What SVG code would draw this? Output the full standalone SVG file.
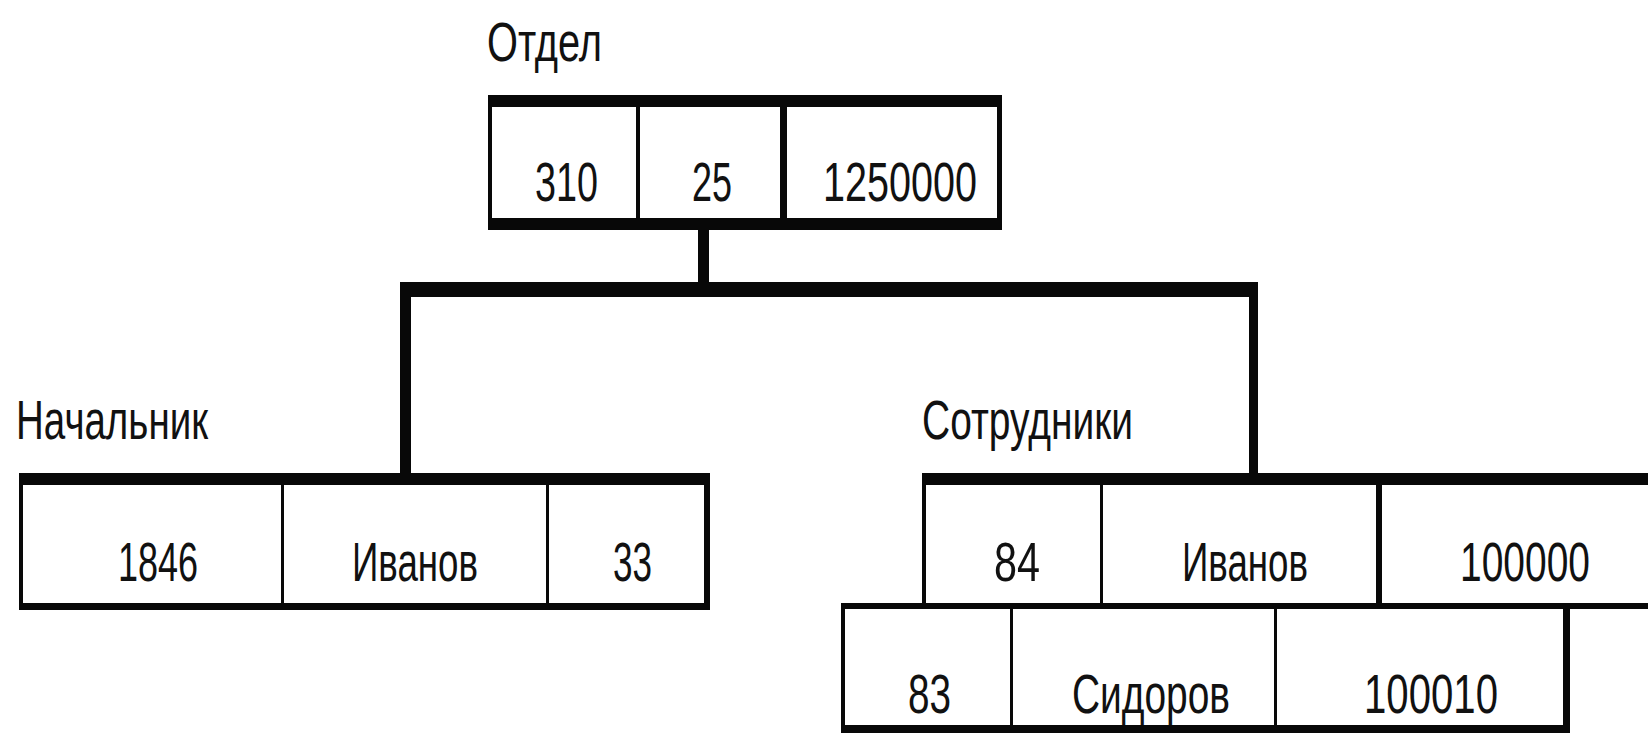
<svg xmlns="http://www.w3.org/2000/svg" width="1648" height="736" viewBox="0 0 1648 736">
<style>
.ln{fill:#080808}
.t{font-family:"Liberation Sans",Arial,sans-serif;font-size:56px;fill:#111}
</style>
<rect width="1648" height="736" fill="#fff"/>
<g id="otdel">
<text class="t" x="487" y="61" textLength="115" lengthAdjust="spacingAndGlyphs">Отдел</text>
<rect class="ln" x="488" y="95" width="514" height="12"/>
<rect class="ln" x="488" y="218" width="514" height="12"/>
<rect class="ln" x="488" y="95" width="4" height="135"/>
<rect class="ln" x="997" y="95" width="5" height="135"/>
<rect class="ln" x="636" y="95" width="4" height="135"/>
<rect class="ln" x="780" y="95" width="7" height="135"/>
<text class="t" x="535" y="201" textLength="63" lengthAdjust="spacingAndGlyphs">310</text>
<text class="t" x="692" y="201" textLength="40" lengthAdjust="spacingAndGlyphs">25</text>
<text class="t" x="823" y="201" textLength="154" lengthAdjust="spacingAndGlyphs">1250000</text>
</g>
<g id="connectors">
<rect class="ln" x="698" y="228" width="11" height="62"/>
<rect class="ln" x="400" y="282" width="858" height="15"/>
<rect class="ln" x="400" y="282" width="11" height="195"/>
<rect class="ln" x="1249" y="282" width="9" height="195"/>
</g>
<g id="nachalnik">
<text class="t" x="16" y="439" textLength="192" lengthAdjust="spacingAndGlyphs">Начальник</text>
<rect class="ln" x="19" y="473" width="691" height="12"/>
<rect class="ln" x="19" y="603" width="691" height="7"/>
<rect class="ln" x="19" y="473" width="4" height="137"/>
<rect class="ln" x="704" y="473" width="6" height="137"/>
<rect class="ln" x="281" y="473" width="3" height="137"/>
<rect class="ln" x="546" y="473" width="3" height="137"/>
<text class="t" x="118" y="581" textLength="80" lengthAdjust="spacingAndGlyphs">1846</text>
<text class="t" x="352" y="581" textLength="126" lengthAdjust="spacingAndGlyphs">Иванов</text>
<text class="t" x="613" y="581" textLength="39" lengthAdjust="spacingAndGlyphs">33</text>
</g>
<g id="sotrudniki">
<text class="t" x="922" y="439" textLength="211" lengthAdjust="spacingAndGlyphs">Сотрудники</text>
<rect class="ln" x="922" y="473" width="726" height="12"/>
<rect class="ln" x="922" y="473" width="4" height="135"/>
<rect class="ln" x="1100" y="473" width="3" height="135"/>
<rect class="ln" x="1376" y="473" width="6" height="135"/>
<text class="t" x="994" y="581" textLength="46" lengthAdjust="spacingAndGlyphs">84</text>
<text class="t" x="1182" y="581" textLength="126" lengthAdjust="spacingAndGlyphs">Иванов</text>
<text class="t" x="1460" y="581" textLength="130" lengthAdjust="spacingAndGlyphs">100000</text>
<rect class="ln" x="841" y="603" width="807" height="6"/>
<rect class="ln" x="841" y="725" width="729" height="8"/>
<rect class="ln" x="841" y="603" width="4" height="130"/>
<rect class="ln" x="1010" y="603" width="3" height="130"/>
<rect class="ln" x="1274" y="603" width="3" height="130"/>
<rect class="ln" x="1563" y="603" width="7" height="130"/>
<text class="t" x="908" y="713" textLength="43" lengthAdjust="spacingAndGlyphs">83</text>
<text class="t" x="1072" y="713" textLength="158" lengthAdjust="spacingAndGlyphs">Сидоров</text>
<text class="t" x="1364" y="713" textLength="134" lengthAdjust="spacingAndGlyphs">100010</text>
</g>
</svg>
